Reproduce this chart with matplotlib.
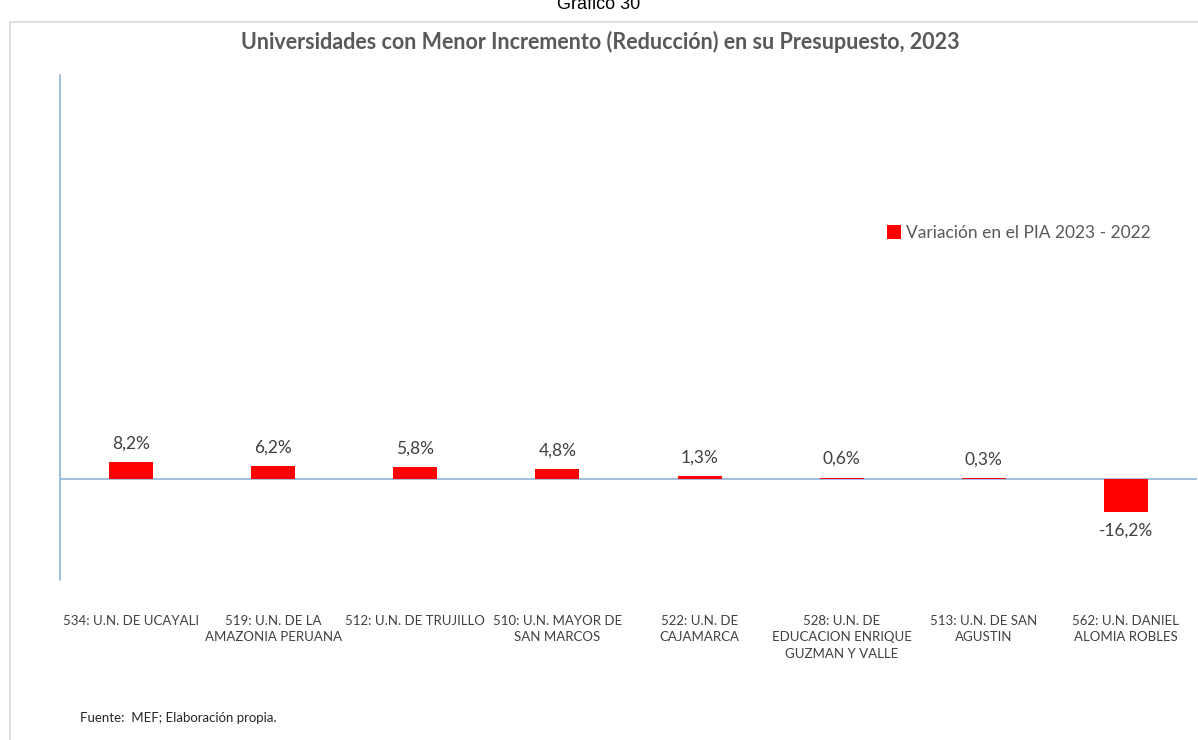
import numpy as np
import matplotlib
matplotlib.use("Agg")
import matplotlib.pyplot as plt
from matplotlib.patches import Rectangle

plt.rcParams['font.family'] = ['Lato', 'DejaVu Sans']

categories = ['534: U.N. DE UCAYALI',
              '519: U.N. DE LA\nAMAZONIA PERUANA',
              '512: U.N. DE TRUJILLO',
              '510: U.N. MAYOR DE\nSAN MARCOS',
              '522: U.N. DE\nCAJAMARCA',
              '528: U.N. DE\nEDUCACION ENRIQUE\nGUZMAN Y VALLE',
              '513: U.N. DE SAN\nAGUSTIN',
              '562: U.N. DANIEL\nALOMIA ROBLES']
variacion = [8.2, 6.2, 5.8, 4.8, 1.3, 0.6, 0.3, -16.2]
serie = 'Variación en el PIA 2023 - 2022'

txt = '#404040'
axis_col = '#8EB4D6'

fig = plt.figure(figsize=(11.98, 7.4), dpi=100, facecolor='white')
# outer frame of the chart
fig.patches.append(Rectangle((10/1198, -0.1), 1.2, 1.1 - 22/740, transform=fig.transFigure,
                             fill=False, edgecolor='#D9D9D9', linewidth=1.2))
fig.text(0.5, 1 - 9/740, 'Gráfico 30', ha='center', va='baseline',
         fontsize=13, family=['Liberation Sans', 'DejaVu Sans'], color='#000000')

ax = fig.add_axes([60/1198, 1 - 580/740, 1137/1198, 505/740])
x = np.arange(len(categories))
bars = ax.bar(x, variacion, width=0.31, color='#FF0000', label=serie, zorder=3)
ax.axhline(0, color=axis_col, linewidth=1.2, zorder=2)

for xi, v in zip(x, variacion):
    lab = f'{v:.1f}%'.replace('.', ',')
    if v >= 0:
        ax.annotate(lab, (xi, v), xytext=(0, 8), textcoords='offset points',
                    ha='center', va='bottom', fontsize=12.5, color=txt)
    else:
        ax.annotate(lab, (xi, v), xytext=(0, -8), textcoords='offset points',
                    ha='center', va='top', fontsize=12.5, color=txt)

ax.set_xlim(-0.5, 7.5)
ax.set_ylim(-50, 200)
ax.set_yticks([])
ax.set_xticks(x)
ax.set_xticklabels(categories, fontsize=9.5, color=txt, linespacing=1.45)
ax.tick_params(axis='x', length=0, pad=25)
for s in ['top', 'right', 'bottom']:
    ax.spines[s].set_visible(False)
ax.spines['left'].set_color(axis_col)
ax.spines['left'].set_linewidth(1.2)

ax.legend(loc='upper left', bbox_to_anchor=(0.72, 0.72), frameon=False,
          fontsize=12.5, labelcolor='#595959', handlelength=0.8, handleheight=0.8,
          handletextpad=0.3, borderpad=0)

fig.text(600/1198, 1 - 42/740, 'Universidades con Menor Incremento (Reducción) en su Presupuesto, 2023',
         ha='center', va='center', fontsize=15.5, fontweight='bold', color='#595959')
fig.text(80/1198, 1 - 718/740, 'Fuente:  MEF; Elaboración propia.', ha='left', va='center',
         fontsize=9.5, color='#262626')

fig.savefig('out.png', dpi=100, facecolor='white')
